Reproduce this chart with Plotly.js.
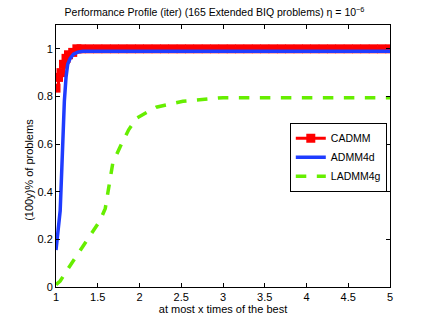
<!DOCTYPE html>
<html>
<head>
<meta charset="utf-8">
<script src="https://cdn.plot.ly/plotly-3.0.1.min.js"></script>
<style>
  html, body { margin: 0; padding: 0; background: #fff; }
  #chart { width: 429px; height: 323px; }
</style>
</head>
<body>
<div id="chart"></div>
<script>
'use strict';

// CADMM: staircase with square markers
const cadmm_x = [1, 1.03, 1.06, 1.09, 1.12, 1.15, 1.2, 1.25, 1.3, 1.4, 1.5, 1.6, 1.7, 1.8, 1.9, 2,
    2.1, 2.2, 2.3, 2.4, 2.5, 2.6, 2.7, 2.8, 2.9, 3, 3.1, 3.2, 3.3, 3.4, 3.5, 3.6, 3.7, 3.8, 3.9, 4,
    4.1, 4.2, 4.3, 4.4, 4.5, 4.6, 4.7, 4.8, 4.9, 5];
const cadmm_y = [0.835, 0.88, 0.9, 0.935, 0.96, 0.975, 0.985, 1, 1, 1, 1, 1, 1, 1, 1, 1,
    1, 1, 1, 1, 1, 1, 1, 1, 1, 1, 1, 1, 1, 1, 1, 1, 1, 1, 1, 1,
    1, 1, 1, 1, 1, 1, 1, 1, 1, 1];

const admm4d_x = [1, 1.03, 1.05, 1.07, 1.08, 1.1, 1.12, 1.14, 1.17, 1.21, 1.26, 1.32, 1.5, 2, 3, 4, 5];
const admm4d_y = [0.155, 0.25, 0.32, 0.5, 0.6, 0.78, 0.88, 0.935, 0.96, 0.978, 0.986, 0.99, 0.99, 0.99, 0.99, 0.99, 0.99];

const ladmm4g_x = [1, 1.05, 1.15, 1.29, 1.4, 1.53, 1.59, 1.64, 1.68, 1.77, 1.87, 1.97, 2.2, 2.52, 2.8, 3, 3.5, 4, 4.5, 5];
const ladmm4g_y = [0.01, 0.025, 0.08, 0.155, 0.21, 0.28, 0.33, 0.43, 0.52, 0.59, 0.66, 0.71, 0.755, 0.78, 0.79, 0.795, 0.795, 0.795, 0.795, 0.795];

const x_ticks = [1, 1.5, 2, 2.5, 3, 3.5, 4, 4.5, 5];
const y_ticks = [0, 0.2, 0.4, 0.6, 0.8, 1];

const data = [
    {
        x: cadmm_x, y: cadmm_y, name: 'CADMM', type: 'scatter', mode: 'lines+markers',
        line: { color: '#ff0000', width: 3, shape: 'hv' },
        marker: { symbol: 'square', size: 9, color: '#ff0000' }
    },
    {
        x: admm4d_x, y: admm4d_y, name: 'ADMM4d', type: 'scatter', mode: 'lines',
        line: { color: '#1f3cff', width: 3.5 }
    },
    {
        x: ladmm4g_x, y: ladmm4g_y, name: 'LADMM4g', type: 'scatter', mode: 'lines',
        line: { color: '#66ee00', width: 3.5, dash: 'dash' }
    }
];

const axis_common = {
    showgrid: false, zeroline: false, showline: true, linecolor: '#000', linewidth: 1,
    mirror: 'ticks', ticks: 'inside', ticklen: 4, tickcolor: '#000',
    tickfont: { size: 11, color: '#000' }
};

const layout = {
    width: 429, height: 323,
    margin: { l: 56, r: 39, t: 25, b: 36 },
    paper_bgcolor: '#fff', plot_bgcolor: '#fff',
    font: { family: 'Liberation Sans, Arial, sans-serif', size: 11, color: '#000' },
    title: {
        text: 'Performance Profile (iter) (165 Extended BIQ problems) η = 10<sup>−6</sup>',
        font: { size: 10.5 }, x: 0.5, xanchor: 'center', y: 0.962, yanchor: 'middle'
    },
    showlegend: true,
    legend: {
        x: 0.70, y: 0.627, xanchor: 'left', yanchor: 'top',
        bordercolor: '#000', borderwidth: 1, bgcolor: '#fff',
        font: { size: 10.5 }, tracegroupgap: 0, itemwidth: 30
    },
    xaxis: Object.assign({}, axis_common, {
        range: [1, 5], tickvals: x_ticks,
        title: { text: 'at most x times of the best', font: { size: 11 }, standoff: 2 }
    }),
    yaxis: Object.assign({}, axis_common, {
        range: [0, 1.1], tickvals: y_ticks
    }),
    annotations: [{
        text: '(100y)% of problems', xref: 'paper', yref: 'paper',
        x: -0.081, y: 0.447, xanchor: 'center', yanchor: 'middle',
        textangle: -90, showarrow: false, font: { size: 11 }
    }]
};

Plotly.newPlot('chart', data, layout, { staticPlot: true });
</script>
</body>
</html>
